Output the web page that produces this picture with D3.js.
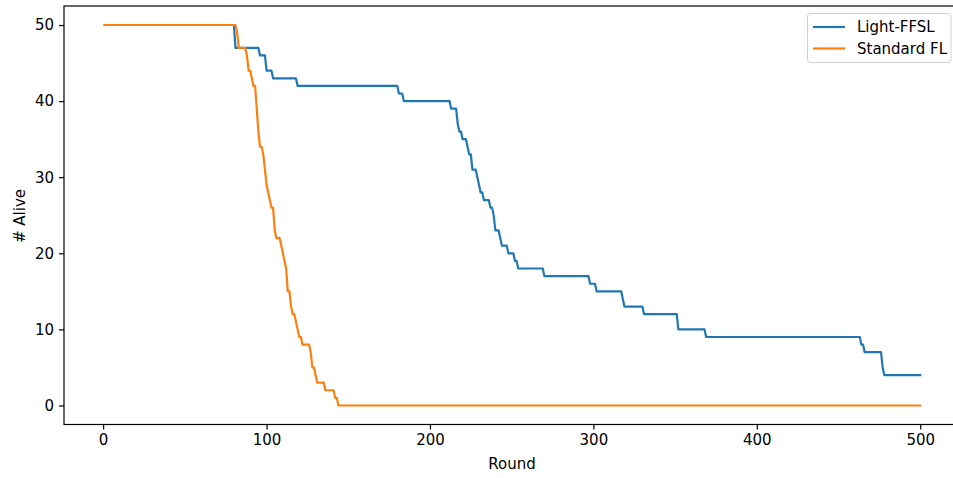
<!DOCTYPE html>
<html>
<head>
<meta charset="utf-8">
<script src="https://cdn.jsdelivr.net/npm/d3@7"></script>
<style>
  html, body { margin: 0; padding: 0; background: #fff; overflow: hidden; }
  svg { display: block; font-family: "DejaVu Sans", sans-serif; }
</style>
</head>
<body>
<svg id="chart" width="953" height="478"></svg>
<script>
// ---- data ----
const seriesNames = ["Light-FFSL", "Standard FL"];
const seriesColors = ["#1f77b4", "#ff7f0e"];

const lightRounds = [1, 80, 81, 95, 96, 99, 100, 103, 104, 118, 119, 180, 181, 183, 184, 212, 213, 216, 217, 218, 219, 220, 222, 223, 224, 225, 226, 228, 229, 230, 231, 232, 233, 236, 237, 238, 239, 240, 242, 243, 244, 247, 248, 251, 252, 253, 254, 269, 270, 297, 298, 301, 302, 317, 318, 319, 330, 331, 351, 352, 368, 369, 463, 464, 465, 466, 476, 477, 478, 500];
const lightAlive  = [50, 50, 47, 47, 46, 46, 44, 44, 43, 43, 42, 42, 41, 41, 40, 40, 39, 39, 37, 36, 36, 35, 35, 34, 33, 33, 31, 31, 30, 29, 28, 28, 27, 27, 26, 26, 25, 23, 23, 22, 21, 21, 20, 20, 19, 19, 18, 18, 17, 17, 16, 16, 15, 15, 14, 13, 13, 12, 12, 10, 10, 9, 9, 8, 8, 7, 7, 5, 4, 4];

const stdRounds = [1, 81, 82, 83, 87, 88, 89, 90, 91, 92, 93, 94, 95, 96, 97, 98, 99, 100, 101, 102, 103, 104, 105, 106, 108, 109, 110, 111, 112, 113, 114, 115, 116, 117, 118, 119, 120, 121, 122, 126, 127, 128, 129, 130, 131, 135, 136, 141, 142, 143, 144, 500];
const stdAlive  = [50, 50, 49, 47, 47, 46, 44, 44, 43, 42, 42, 39, 36, 34, 34, 33, 31, 29, 28, 27, 26, 26, 23, 22, 22, 21, 20, 19, 18, 15, 15, 13, 12, 12, 11, 10, 9, 9, 8, 8, 7, 5, 5, 4, 3, 3, 2, 2, 1, 1, 0, 0];

const xTicks = [0, 100, 200, 300, 400, 500];
const yTicks = [0, 10, 20, 30, 40, 50];
const xLabel = "Round";
const yLabel = "# Alive";

// ---- layout ----
const svg = d3.select("#chart");
const axL = 64, axR = 961, axT = 6, axB = 424.5;
const fs = 15;

const x = d3.scaleLinear().domain([-23.95, 524.95]).range([axL, axR]);
const y = d3.scaleLinear().domain([-2.5, 52.5]).range([axB, axT]);

const series = [
  { name: seriesNames[0], color: seriesColors[0], pts: lightRounds.map((r, i) => [r, lightAlive[i]]) },
  { name: seriesNames[1], color: seriesColors[1], pts: stdRounds.map((r, i) => [r, stdAlive[i]]) }
];

svg.append("clipPath").attr("id", "clip").append("rect")
  .attr("x", axL).attr("y", axT).attr("width", axR - axL).attr("height", axB - axT);

const line = d3.line().x(d => x(d[0])).y(d => y(d[1]));
svg.append("g").attr("clip-path", "url(#clip)")
  .selectAll("path").data(series).join("path")
  .attr("d", d => line(d.pts))
  .attr("fill", "none")
  .attr("stroke", d => d.color)
  .attr("stroke-width", 2.2)
  .attr("stroke-linejoin", "round")
  .attr("stroke-linecap", "square");

const xAxis = d3.axisBottom(x).tickValues(xTicks).tickSizeOuter(0).tickSize(5).tickPadding(5);
const yAxis = d3.axisLeft(y).tickValues(yTicks).tickSizeOuter(0).tickSize(5).tickPadding(5);

const gx = svg.append("g").attr("transform", `translate(0,${axB})`).call(xAxis);
const gy = svg.append("g").attr("transform", `translate(${axL},0)`).call(yAxis);
[gx, gy].forEach(g => {
  g.select(".domain").remove();
  g.selectAll(".tick line").attr("stroke", "#000").attr("stroke-width", 1.2);
  g.selectAll(".tick text").attr("fill", "#000").style("font-size", fs + "px").style("font-family", "DejaVu Sans");
});

svg.append("rect")
  .attr("x", axL).attr("y", axT).attr("width", axR - axL).attr("height", axB - axT)
  .attr("fill", "none").attr("stroke", "#000").attr("stroke-width", 1.2);

svg.append("text").attr("x", 512).attr("y", 469)
  .attr("text-anchor", "middle").style("font-size", fs + "px").text(xLabel);
svg.append("text").attr("transform", "translate(25,216) rotate(-90)")
  .attr("text-anchor", "middle").style("font-size", fs + "px").text(yLabel);

const lg = svg.append("g");
lg.append("rect").attr("x", 807.5).attr("y", 13.5).attr("width", 143.5).attr("height", 49)
  .attr("rx", 3).attr("fill", "#fff").attr("fill-opacity", 0.8)
  .attr("stroke", "#d0d0d0").attr("stroke-width", 1);
series.forEach((s, i) => {
  const yy = 27 + i * 21.5;
  lg.append("line").attr("x1", 813).attr("x2", 845).attr("y1", yy).attr("y2", yy)
    .attr("stroke", s.color).attr("stroke-width", 2.2);
  lg.append("text").attr("x", 857).attr("y", yy).attr("dy", "0.36em")
    .style("font-size", fs + "px").text(s.name);
});
</script>
</body>
</html>
